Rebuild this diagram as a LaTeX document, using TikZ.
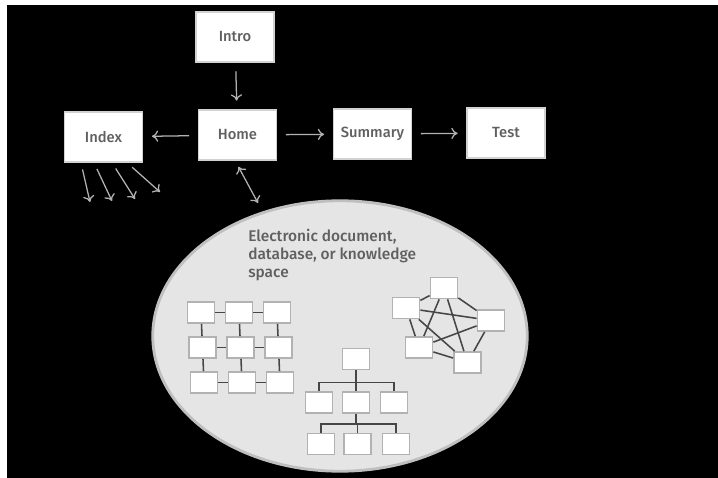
\documentclass[tikz,border=0pt]{standalone}
\usepackage{fontspec}
\setmainfont{Fira Sans Medium}
\usetikzlibrary{arrows.meta}
\tikzset{
    page/.style={draw=gray!35,line width=0.8pt,fill=white,minimum width=1.95cm,minimum height=1.25cm,text=gray!75!black,font=\fontsize{10.5}{12}\selectfont},
    link/.style={gray!60,line width=0.9pt,-{To[length=4.5pt,width=8pt]},shorten <=0.22cm,shorten >=0.22cm},
    fan/.style={gray!60,line width=0.9pt,-{To[length=4.5pt,width=8pt]}},
    cell/.style={draw=gray!60,line width=1.1pt,fill=white,minimum width=0.68cm,minimum height=0.53cm,inner sep=0pt},
    wire/.style={gray!55!black,line width=1.1pt},
}
\begin{document}
\begin{tikzpicture}[x=0.025cm,y=-0.025cm]
    \fill[white](0,0)rectangle(718,478);
    \fill[black](7,5)rectangle(718,478);

    \node[page](Intro)at(235,37){Intro};
    \node[page](Home)at(237.5,135){Home};
    \node[page](Index)at(103.5,137){Index};
    \node[page](Summary)at(372.5,134){Summary};
    \node[page](Test)at(506,133){Test};

    \draw[link](Intro)--(Home);
    \draw[link](Home)--(Index);
    \draw[link](Home)--(Summary);
    \draw[link](Summary)--(Test);

    \coordinate(i1)at(90,202);
    \coordinate(i2)at(112,201);
    \coordinate(i3)at(135,199);
    \coordinate(i4)at(160,192);
    \foreach \s/\e in {17/i1,30/i2,48/i3,63/i4}
        \draw[fan,shorten <=5pt]([xshift=\s*0.025cm]Index.south west)--(\e);

    \coordinate(Space)at(258,203);
    \draw[fan,{To[length=4.5pt,width=8pt]}-{To[length=4.5pt,width=8pt]},shorten <=5pt]([xshift=-0.06cm]Home.south)--(Space);

    \fill[gray!20,draw=gray!50,line width=2pt](340,336)ellipse[x radius=4.68cm,y radius=3.38cm];

    \node[anchor=north west,align=left,inner sep=0pt,text=gray!75!black,font=\fontsize{11}{12.8}\selectfont](Label)at(248,229){Electronic document,\\database, or knowledge\\space};

    \foreach \r in {0,1,2}{
        \foreach \c in {0,1,2}{
            \node[cell](g\r\c)at({201+38*\c+1.5*\r},{312.5+35*\r}){};
        }
    }
    \foreach \r in {0,1,2}{
        \draw[wire](g\r0)--(g\r1);
        \draw[wire](g\r1)--(g\r2);
    }
    \foreach \c in {0,1,2}{
        \draw[wire](g0\c)--(g1\c);
        \draw[wire](g1\c)--(g2\c);
    }

    \node[cell](t0)at(356,359){};
    \node[cell](t1)at(319,402.5){};
    \node[cell](t2)at(356,402.5){};
    \node[cell](t3)at(394,402.5){};
    \node[cell](t4)at(321,444){};
    \node[cell](t5)at(357.5,444){};
    \node[cell](t6)at(396,444){};
    \foreach \k in {1,2,3}
        \draw[wire](t0.south)--++(0,12)-|(t\k.north);
    \foreach \k in {4,5,6}
        \draw[wire](t2.south)--++(0,10)-|(t\k.north);

    \node[cell](nA)at(444,288){};
    \node[cell](nB)at(406,308){};
    \node[cell](nC)at(491,320.5){};
    \node[cell](nD)at(419,347.5){};
    \node[cell](nE)at(467.5,362.5){};
    \foreach \a/\b in {A/B,A/C,A/D,A/E,B/C,B/D,B/E,C/D,C/E,D/E}
        \draw[wire](n\a)--(n\b);
\end{tikzpicture}
\end{document}
